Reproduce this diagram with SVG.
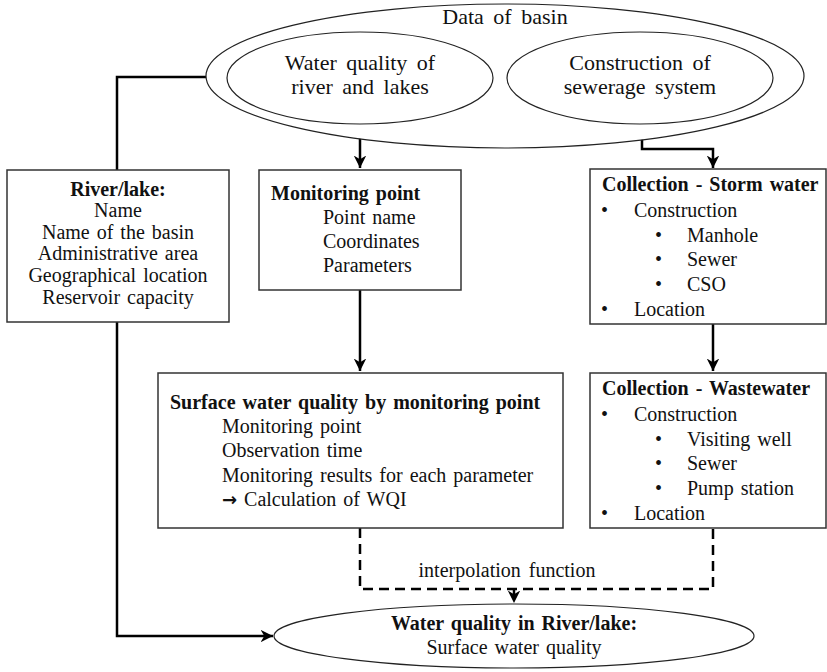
<svg xmlns="http://www.w3.org/2000/svg" width="827" height="672" viewBox="0 0 827 672">
<defs>
<style>
text{font-family:"Liberation Serif","Times New Roman",serif;font-size:20px;fill:#111;word-spacing:2px}
.b{font-weight:bold}
.c{text-anchor:middle}
.big{font-size:22px;word-spacing:4px}
.box{fill:#fff;stroke:#333;stroke-width:1.5}
.ell{fill:#fff;stroke:#222;stroke-width:1.2}
.con{fill:none;stroke:#000;stroke-width:2.5}
.dash{fill:none;stroke:#000;stroke-width:2.5;stroke-dasharray:10 6}
</style>
<marker id="ah" viewBox="0 0 10 10" refX="10" refY="5" markerWidth="5" markerHeight="5" orient="auto" markerUnits="strokeWidth">
<path d="M0,0 L10,5 L0,10 L3,5 z" fill="#000"/>
</marker>
</defs>
<g id="connectors">
<path class="con" d="M206,77 H117 V170"/>
<path class="con" d="M360,124 V168" marker-end="url(#ah)"/>
<path class="con" d="M642,124 V149 H713 V168" marker-end="url(#ah)"/>
<path class="con" d="M360,290 V371" marker-end="url(#ah)"/>
<path class="con" d="M713,324 V371" marker-end="url(#ah)"/>
<path class="con" d="M117,322 V636 H273" marker-end="url(#ah)"/>
<path class="dash" d="M360,528 V589 H713 V528"/>
<path class="dash" d="M514,589 V603" marker-end="url(#ah)"/>
</g>
<g id="data-of-basin">
<ellipse class="ell" cx="505" cy="76" rx="299" ry="72"/>
<text class="c big" x="505" y="24">Data of basin</text>
</g>
<g id="water-quality-river-lakes">
<ellipse class="ell" cx="360" cy="78" rx="133" ry="46"/>
<text class="c big" x="360" y="70">Water quality of</text>
<text class="c big" x="360" y="94">river and lakes</text>
</g>
<g id="construction-sewerage">
<ellipse class="ell" cx="640" cy="78" rx="133" ry="46"/>
<text class="c big" x="640" y="70">Construction of</text>
<text class="c big" x="640" y="94">sewerage system</text>
</g>
<g id="river-lake">
<rect class="box" x="7" y="170" width="222" height="152"/>
<text class="c b" x="118" y="196">River/lake:</text>
<text class="c" x="118" y="217">Name</text>
<text class="c" x="118" y="239">Name of the basin</text>
<text class="c" x="118" y="260">Administrative area</text>
<text class="c" x="118" y="282">Geographical location</text>
<text class="c" x="118" y="304">Reservoir capacity</text>
</g>
<g id="monitoring-point">
<rect class="box" x="259" y="170" width="202" height="120"/>
<text class="b" x="271" y="200">Monitoring point</text>
<text x="323" y="224">Point name</text>
<text x="323" y="248">Coordinates</text>
<text x="323" y="272">Parameters</text>
</g>
<g id="storm-water">
<rect class="box" x="590" y="169" width="236" height="155"/>
<text class="b" x="602" y="191">Collection - Storm water</text>
<text x="601" y="217">•</text><text x="634" y="217">Construction</text>
<text x="655" y="242">•</text><text x="687" y="242">Manhole</text>
<text x="655" y="266">•</text><text x="687" y="266">Sewer</text>
<text x="655" y="291">•</text><text x="687" y="291">CSO</text>
<text x="601" y="316">•</text><text x="634" y="316">Location</text>
</g>
<g id="wastewater">
<rect class="box" x="590" y="373" width="236" height="155"/>
<text class="b" x="602" y="395">Collection - Wastewater</text>
<text x="601" y="421">•</text><text x="634" y="421">Construction</text>
<text x="655" y="446">•</text><text x="687" y="446">Visiting well</text>
<text x="655" y="470">•</text><text x="687" y="470">Sewer</text>
<text x="655" y="495">•</text><text x="687" y="495">Pump station</text>
<text x="601" y="520">•</text><text x="634" y="520">Location</text>
</g>
<g id="surface-water-quality">
<rect class="box" x="158" y="373" width="405" height="155"/>
<text class="b" x="170" y="409">Surface water quality by monitoring point</text>
<text x="222" y="433">Monitoring point</text>
<text x="222" y="457">Observation time</text>
<text x="222" y="482">Monitoring results for each parameter</text>
<text x="222" y="506"><tspan style="font-family:'DejaVu Sans',sans-serif;font-size:18px;font-weight:bold">→</tspan> Calculation of WQI</text>
</g>
<g id="interpolation-label">
<text class="c" x="507" y="577" style="word-spacing:3px">interpolation function</text>
</g>
<g id="water-quality-river-lake">
<ellipse class="ell" cx="514" cy="636" rx="240" ry="32"/>
<text class="c b" x="514" y="630">Water quality in River/lake:</text>
<text class="c" x="514" y="654">Surface water quality</text>
</g>
</svg>
